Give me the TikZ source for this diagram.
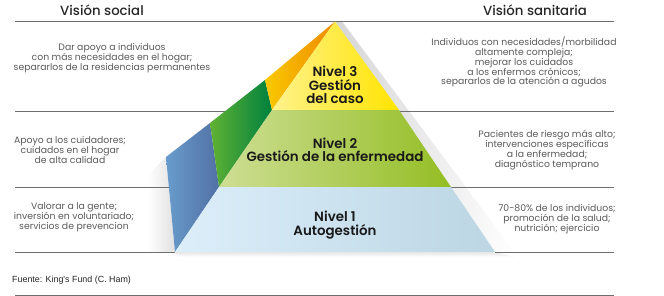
\documentclass[tikz,border=0pt]{standalone}
\usepackage{fontspec}
\setmainfont{Poppins}
\newfontfamily\poppinsmedio{Poppins Medium}
\newfontfamily\poppinsfuerte{Poppins SemiBold}
\newfontfamily\fuentepie{Liberation Sans}
\usepackage{xcolor}
\usepackage{tikz}
\usetikzlibrary{positioning}

\definecolor{gristexto}{RGB}{90,90,90}
\definecolor{grislinea}{RGB}{110,110,110}

\begin{document}
\begin{tikzpicture}[x=1pt, y=-1pt,
    linea/.style={draw=grislinea, line width=0.8pt},
    titulo/.style={font=\poppinsmedio\fontsize{13.3}{14}\selectfont, text=black!85, inner sep=0pt},
    texto/.style={align=center, font=\fontsize{9.3}{9.9}\selectfont, text=gristexto, inner sep=0pt},
    nivel/.style={align=center, font=\poppinsfuerte\fontsize{13.4}{13.6}\selectfont, text=black!90, inner sep=0pt}]
    \useasboundingbox (0,0) rectangle (664,296);

    % 1. Vértices de la pirámide
    \coordinate (cima) at (335,21.5);
    \coordinate (n3i) at (272,110); \coordinate (n3d) at (399,110);
    \coordinate (n2i) at (219,187); \coordinate (n2d) at (451,187);
    \coordinate (n1i) at (175,252); \coordinate (n1d) at (495,252);
    \coordinate (s3) at (265,80); \coordinate (s2) at (210,123); \coordinate (s1) at (166,157);

    % 2. Sombras suaves
    \shade[left color=black!16, right color=white] (cima) -- (n1d) -- (516,254) -- (342,21.5) -- cycle;
    \shade[top color=black!10, bottom color=white] (n1i) -- (n1d) -- (516,257) -- (178,257) -- cycle;
    \shade[left color=white, right color=black!12] (148,175) -- (s1) -- (n1i) -- (148,252) -- cycle;

    % 3. Líneas horizontales
    \draw[linea] (15,21.5) -- (614,21.5);
    \draw[linea] (15,111) -- (230,111);
    \draw[linea] (395,111) -- (614,111);
    \draw[linea] (15,187) -- (172,187);
    \draw[linea] (448,187) -- (614,187);
    \draw[linea] (15,252) -- (n1i);
    \draw[linea] (n1d) -- (614,252);
    \draw[linea] (15,295) -- (614,295);

    % 4. Caras laterales
    \shade[left color={rgb,255:red,104;green,156;blue,204}, right color={rgb,255:red,82;green,112;blue,164}]
        (s1) -- (s2) -- (n2i) -- (n1i) -- cycle;
    \shade[left color={rgb,255:red,96;green,178;blue,52}, right color={rgb,255:red,0;green,128;blue,62}]
        (s2) -- (s3) -- (n3i) -- (n2i) -- cycle;
    \shade[left color={rgb,255:red,250;green,200;blue,0}, right color={rgb,255:red,238;green,138;blue,0}]
        (s3) -- (cima) -- (n3i) -- cycle;

    % 5. Cara frontal por niveles
    \shade[left color={rgb,255:red,220;green,238;blue,250}, right color={rgb,255:red,188;green,214;blue,228}]
        (n2i) -- (n2d) -- (n1d) -- (n1i) -- cycle;
    \shade[left color={rgb,255:red,206;green,222;blue,148}, right color={rgb,255:red,148;green,190;blue,36}]
        (n3i) -- (n3d) -- (n2d) -- (n2i) -- cycle;
    \shade[left color={rgb,255:red,255;green,242;blue,140}, right color={rgb,255:red,255;green,228;blue,0}]
        (cima) -- (n3d) -- (n3i) -- cycle;

    % 6. Textos de los niveles
    \node[nivel] (nivel3) at (335,85) {Nivel 3\\Gestión\\del caso};
    \node[nivel] (nivel2) at (335,150) {Nivel 2\\Gestión de la enfermedad};
    \node[nivel] (nivel1) at (335,225) {Nivel 1\\Autogestión};

    % 7. Títulos y columnas
    \node[titulo] (social) at (102,10.5) {Visión social};
    \node[titulo] (sanitaria) at (535,10.5) {Visión sanitaria};

    \node[texto] (social3) at (112,58) {Dar apoyo a individuos\\con más necesidades en el hogar;\\separarlos de la residencias permanentes};
    \node[texto] (social2) at (70,150) {Apoyo a los cuidadores;\\cuidados en el hogar\\de alta calidad};
    \node[texto] (social1) at (74,217) {Valorar a la gente;\\inversión en voluntariado;\\servicios de prevencion};

    \node[texto] (sanit3) at (524,62) {Individuos con necesidades/morbilidad\\altamente compleja;\\mejorar los cuidados\\a los enfermos crónicos;\\separarlos de la atención a agudos};
    \node[texto] (sanit2) at (547,150) {Pacientes de riesgo más alto;\\intervenciones específicas\\a la enfermedad;\\diagnóstico temprano};
    \node[texto] (sanit1) at (557,219) {70-80\% de los individuos;\\promoción de la salud;\\nutrición; ejercicio};

    \node[font=\fuentepie\fontsize{8.9}{10}\selectfont, text=black!85, anchor=west, inner sep=0pt] (fuente) at (12,280) {Fuente: King's Fund (C. Ham)};
\end{tikzpicture}
\end{document}
